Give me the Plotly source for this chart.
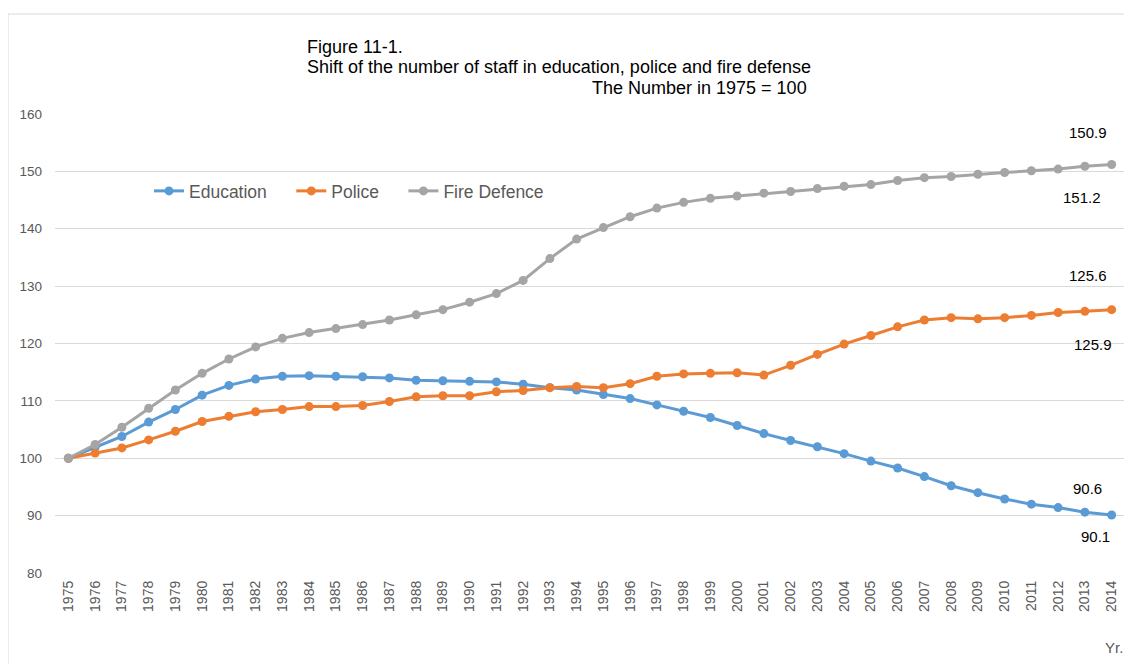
import plotly.graph_objects as go

years = list(range(1975, 2015))

education = [100, 101.9, 103.8, 106.3, 108.5, 111.0, 112.7, 113.8, 114.3, 114.4,
             114.3, 114.2, 114.0, 113.6, 113.5, 113.4, 113.3, 112.9, 112.3, 111.9,
             111.1, 110.4, 109.3, 108.2, 107.1, 105.7, 104.3, 103.1, 102.0, 100.8,
             99.5, 98.3, 96.8, 95.2, 94.0, 92.9, 92.0, 91.4, 90.6, 90.1]

police = [100, 100.9, 101.8, 103.2, 104.7, 106.4, 107.3, 108.1, 108.5, 109.0,
          109.0, 109.2, 109.9, 110.7, 110.9, 110.9, 111.6, 111.8, 112.3, 112.5,
          112.3, 113.0, 114.3, 114.7, 114.8, 114.9, 114.5, 116.2, 118.1, 119.9,
          121.4, 122.9, 124.1, 124.5, 124.3, 124.5, 124.9, 125.4, 125.6, 125.9]

fire = [100, 102.4, 105.4, 108.7, 111.9, 114.8, 117.3, 119.4, 120.9, 121.9,
        122.6, 123.3, 124.1, 125.0, 125.9, 127.2, 128.7, 131.0, 134.8, 138.2,
        140.2, 142.1, 143.6, 144.6, 145.3, 145.7, 146.2, 146.5, 147.0, 147.4,
        147.7, 148.4, 148.9, 149.1, 149.5, 149.8, 150.1, 150.4, 150.9, 151.2]

series_names = ["Education", "Police", "Fire Defence"]
series_colors = ["#5B9BD5", "#ED7D31", "#A5A5A5"]

# data labels: (text, x, y)
label_texts = ["150.9", "151.2", "125.6", "125.9", "90.6", "90.1"]
label_x = [2013.1, 2012.9, 2013.1, 2013.3, 2013.1, 2013.4]
label_y = [156.8, 145.5, 131.9, 119.9, 94.8, 86.4]

FONT = "Liberation Sans, Arial"
NB = "\u00a0"

fig = go.Figure()
for name, vals, col in zip(series_names, [education, police, fire], series_colors):
    fig.add_trace(go.Scatter(
        x=years, y=vals, name=name + NB * 4, mode="lines+markers",
        line=dict(color=col, width=3),
        marker=dict(color=col, size=9),
    ))

for t, x, y in zip(label_texts, label_x, label_y):
    fig.add_annotation(x=x, y=y, text=t, showarrow=False,
                       font=dict(family=FONT, size=15, color="#000000"))


def px(sx):
    return (sx - 55) / 1070


def py(sy):
    return (573 - sy) / 459


fig.add_annotation(xref="paper", yref="paper", x=px(305), y=py(47),
                   xanchor="left", yanchor="middle", showarrow=False,
                   text="Figure 11-1.",
                   font=dict(family=FONT, size=18, color="#000000"))
fig.add_annotation(xref="paper", yref="paper", x=px(305), y=py(67),
                   xanchor="left", yanchor="middle", showarrow=False,
                   text="Shift of the number of staff in education, police and fire defense",
                   font=dict(family=FONT, size=18, color="#000000"))
fig.add_annotation(xref="paper", yref="paper", x=px(809), y=py(88),
                   xanchor="right", yanchor="middle", showarrow=False,
                   text="The Number in 1975 = 100",
                   font=dict(family=FONT, size=18, color="#000000"))
fig.add_annotation(xref="paper", yref="paper", x=px(1125), y=py(647),
                   xanchor="right", yanchor="middle", showarrow=False,
                   text="Yr.",
                   font=dict(family=FONT, size=15, color="#595959"))

# outer chart border
fig.add_shape(type="rect", xref="paper", yref="paper",
              x0=px(8), x1=px(1145), y0=py(700), y1=py(14),
              line=dict(color="#D9D9D9", width=1), fillcolor="rgba(0,0,0,0)", layer="below")

fig.update_layout(
    width=1124, height=656,
    margin=dict(l=47, r=7, t=106, b=91),
    paper_bgcolor="white", plot_bgcolor="white",
    font=dict(family=FONT, color="#595959"),
    showlegend=True,
    legend=dict(orientation="h", x=px(149), y=py(191),
                xanchor="left", yanchor="middle",
                font=dict(size=17.5, color="#595959"), bgcolor="rgba(0,0,0,0)",
                itemwidth=30, traceorder="normal"),
)
fig.update_xaxes(range=[1974.5, 2014.5], tickmode="array", tickvals=years,
                 ticktext=[str(y) for y in years], tickangle=-90,
                 tickfont=dict(size=14, color="#595959"), showgrid=False,
                 showline=False, zeroline=False, ticks="", ticklabelstandoff=4)
fig.update_yaxes(range=[80, 160], dtick=10, tick0=80,
                 tickfont=dict(size=13.5, color="#595959"), showgrid=True,
                 gridcolor="#D9D9D9", gridwidth=1, zeroline=False, showline=False,
                 ticks="", ticklabelstandoff=12)

fig.write_html("out.html")
